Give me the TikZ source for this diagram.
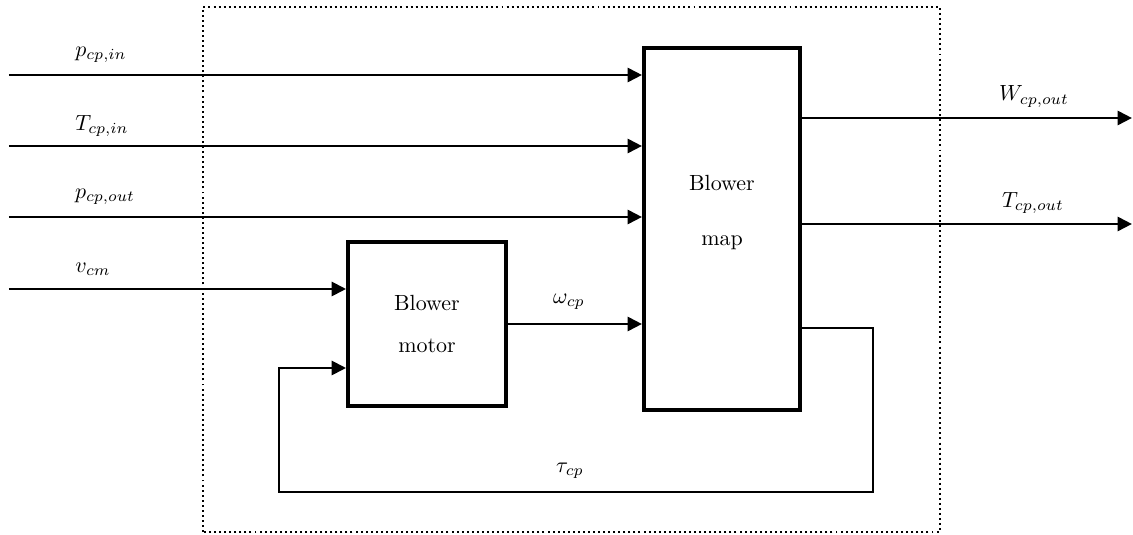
\documentclass[tikz,border=0pt]{standalone}
\usepackage{amsmath,amssymb}
\usepackage{tikz}
\usetikzlibrary{arrows.meta,positioning}

\begin{document}
\begin{tikzpicture}[
    blk/.style={draw, line width=1.8pt, inner sep=0pt, align=center},
    arr/.style={-{Triangle[length=6.5pt,width=6.5pt]}, line width=0.9pt},
]
\useasboundingbox (0,0) rectangle (18.128,8.544);

% Subsystem boundary
\draw[dash pattern=on 0.9pt off 1.4pt, line width=0.9pt] (3.248,0.032) rectangle (15.04,8.432);

% Blocks
\node[blk, minimum width=2.5cm, minimum height=5.79cm] (map) at (11.552,4.88) {};
\node[align=center] (maptxt) at (11.552,5.14) {Blower\\[13pt]map};
\node[blk, minimum width=2.53cm, minimum height=2.62cm] (motor) at (6.832,3.36) {Blower\\[7.5pt]motor};

% Inputs to the blower map
\coordinate (pin) at (0.144,7.344);
\coordinate (tin) at (0.144,6.208);
\coordinate (pout) at (0.144,5.072);
\draw[arr] (pin) -- (pin -| map.west);
\draw[arr] (tin) -- (tin -| map.west);
\draw[arr] (pout) -- (pout -| map.west);
\node (lpin) at (1.616,7.664) {$p_{cp,in}$};
\node (ltin) at (1.632,6.528) {$T_{cp,in}$};
\node (lpout) at (1.68,5.392) {$p_{cp,out}$};

% Motor voltage input
\coordinate (vcm) at (0.144,3.92);
\draw[arr] (vcm) -- (vcm -| motor.west);
\node (lvcm) at (1.488,4.24) {$v_{cm}$};

% Speed to the map
\draw[arr] (motor.east) -- (motor.east -| map.west);
\node (lw) at (9.104,3.712) {$\omega_{cp}$};

% Outputs
\coordinate (wout) at (18.11,6.656);
\coordinate (tout) at (18.11,4.96);
\draw[arr] (map.east |- wout) -- (wout);
\draw[arr] (map.east |- tout) -- (tout);
\node (lwout) at (16.544,6.998) {$W_{cp,out}$};
\node (ltout) at (16.528,5.296) {$T_{cp,out}$};

% Torque feedback
\coordinate (fbo) at (13.968,3.296);
\coordinate (fbl) at (4.464,0.672);
\coordinate (fbi) at ([yshift=-0.704cm]motor.west);
\draw[arr] (map.east |- fbo) -- (fbo) |- (fbl) |- (fbi);
\node (ltau) at (9.12,1.008) {$\tau_{cp}$};
\end{tikzpicture}
\end{document}
